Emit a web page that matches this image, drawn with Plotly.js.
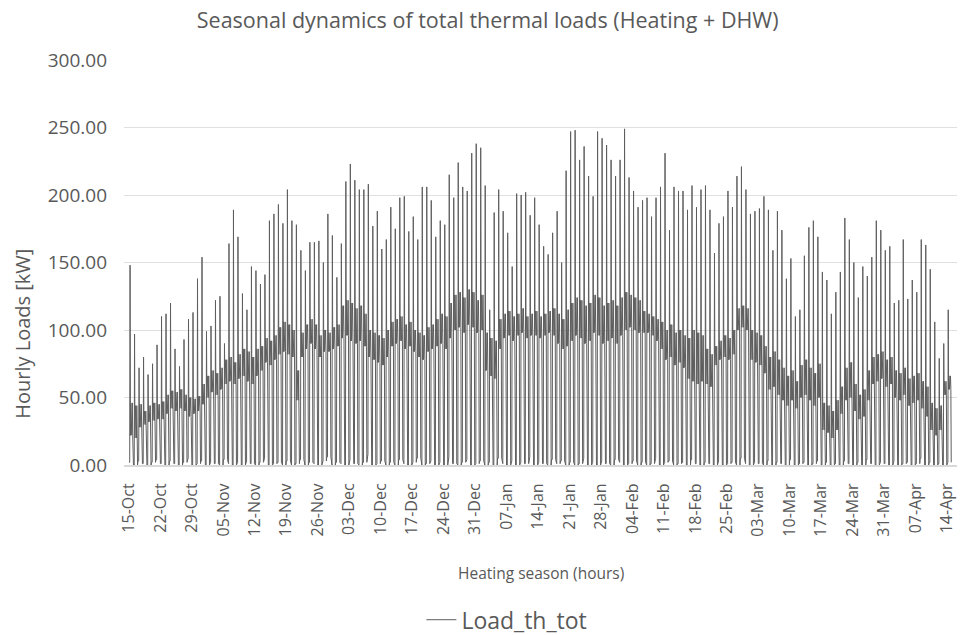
<!DOCTYPE html>
<html>
<head>
<meta charset="utf-8">
<script src="https://cdn.plot.ly/plotly-3.0.1.min.js"></script>
<style>html,body{margin:0;padding:0;background:#fff;}#chart{width:960px;height:635px;}</style>
</head>
<body>
<div id="chart"></div>
<script>
// Season start (day 0 = 15-Oct); one entry per day, 183 days
const seasonStart = '2019-10-15';
const seriesName = 'Load_th_tot';

// Daily peak load [kW] (morning start-up spike)
const dailyPeak = [
  148,97,72,80,67,75,89,110,112,120,
  86,73,93,108,113,138,154,99,103,122,
  125,90,164,189,169,127,115,147,144,134,
  141,181,186,193,179,204,181,178,159,144,
  165,165,166,150,186,
  170,139,164,210,223,211,204,204,208,177,
  188,160,167,191,175,198,199,173,184,167,
  206,206,196,169,181,178,215,198,224,206,
  203,231,238,235,207,115,187,204,188,172,
  147,201,200,202,185,198,
  178,162,156,172,188,150,218,247,248,226,
  236,214,199,247,242,237,226,214,226,249,
  213,203,191,196,198,184,198,206,231,174,
  206,203,203,189,207,191,204,207,189,157,
  179,184,203,191,214,
  221,204,186,188,190,199,189,159,188,174,
  138,153,110,115,155,176,181,169,143,137,
  112,128,143,183,167,150,124,147,140,154,
  181,174,159,162,120,122,167,123,137,128,
  167,163,145,106,79,90,115
];

// Daily upper edge of the daytime load band [kW]
const bandHigh = [
  46,44,45,40,44,46,45,47,52,55,
  54,56,52,50,49,51,60,66,70,68,
  72,78,80,76,82,86,84,80,86,88,
  94,92,96,102,106,104,100,70,98,104,
  108,104,96,100,98,102,104,118,122,120,
  116,118,112,100,98,96,94,100,106,108,
  110,104,106,100,98,96,102,104,108,112,
  110,120,126,128,124,130,128,122,126,98,
  94,92,108,112,114,110,112,116,110,112,
  114,110,112,114,116,112,108,115,120,124,
  122,118,120,126,124,118,120,122,118,124,
  128,126,124,122,114,112,110,108,106,100,
  104,98,100,96,94,100,98,96,86,82,
  88,92,96,94,100,116,118,116,100,98,
  96,88,80,84,78,72,66,70,62,74,
  78,72,68,75,46,44,40,48,58,72,
  76,60,52,56,70,80,82,84,78,80,
  70,68,72,64,66,68,62,58,46,42,
  44,62,66
];

// Daily lower edge of the daytime load band [kW]
const bandLow = [
  22,20,28,30,32,33,34,34,38,42,
  40,42,40,36,38,40,45,50,54,52,
  56,60,62,60,64,66,62,60,66,70,
  76,74,78,82,84,82,80,48,80,86,
  90,86,80,84,84,86,88,94,96,92,
  90,92,88,80,78,76,74,80,88,90,
  92,86,88,84,80,78,84,86,88,90,
  86,94,100,102,98,104,102,98,100,70,
  66,64,86,94,96,92,96,98,94,96,
  96,94,96,98,96,90,86,88,92,96,
  94,90,92,98,96,90,92,94,90,96,
  100,102,100,98,98,98,96,92,86,78,
  80,74,76,72,64,62,60,62,60,58,
  74,78,80,78,82,100,102,100,78,76,
  74,68,56,58,52,48,44,48,42,50,
  52,48,44,50,26,24,20,26,38,48,
  50,40,34,36,48,60,62,64,58,60,
  50,48,52,44,46,48,42,36,26,22,
  26,52,56
];

// Daily night (set-back) load [kW]
const nightLow = [
  2,0,3,1,0,2,4,1,0,3,
  1,0,2,5,0,1,3,0,2,1,
  0,4,1,0,2,0,3,1,0,2,
  5,0,1,2,0,3,0,1,4,0,
  2,1,0,3,6,0,2,1,0,4,
  1,0,2,8,0,1,3,0,2,0,
  4,1,0,2,5,0,1,3,0,2,
  0,6,1,0,2,4,0,1,3,0,
  2,0,5,1,0,3,0,2,1,6,
  0,2,1,0,4,1,3,0,2,0,
  1,5,0,2,0,3,1,0,4,2,
  0,1,3,0,2,0,1,5,0,2,
  3,0,1,2,0,4,1,0,2,1,
  0,3,0,1,2,0,5,1,0,2,
  1,0,3,0,2,1,0,4,0,1,
  2,0,1,3,0,2,0,1,0,3,
  1,0,2,0,4,1,0,2,1,0,
  3,0,1,2,0,1,5,0,2,0,
  1,0,2
];

// Hour of day at which each daily value is placed
const profileHours = [0,4,6,7,8,10,12,14,16,18,20,22];
const profileKind  = ['n','n','p','h','l','h','l','h','l','h','l','n'];

const t0 = Date.parse(seasonStart + 'T00:00:00Z');
function stamp(ms){ return new Date(ms).toISOString().slice(0,19).replace('T',' '); }

const xs = [], ys = [];
for (let d = 0; d < dailyPeak.length; d++) {
  for (let k = 0; k < profileHours.length; k++) {
    xs.push(stamp(t0 + (d*24 + profileHours[k]) * 3600e3));
    const kind = profileKind[k];
    ys.push(kind==='n' ? nightLow[d] : kind==='p' ? dailyPeak[d] : kind==='h' ? bandHigh[d] : bandLow[d]);
  }
}

const tickVals = [];
for (let w = 0; w <= 26; w++) tickVals.push(stamp(t0 + w*7*24*3600e3));

const txt = '#595959';
const fontFam = 'Open Sans, Noto Sans, sans-serif';

const trace = {
  type: 'scatter', mode: 'lines', name: seriesName,
  x: xs, y: ys,
  line: {color: '#5e5e5e', width: 1},
  hoverinfo: 'skip'
};

const layout = {
  width: 960, height: 635,
  margin: {l: 124, r: 3, t: 60, b: 170},
  paper_bgcolor: '#ffffff', plot_bgcolor: '#ffffff',
  font: {family: fontFam, color: txt},
  title: {text: 'Seasonal dynamics of total thermal loads (Heating + DHW)',
          font: {size: 21.5, color: txt, family: fontFam},
          x: 0.508, xref: 'container', xanchor: 'center', y: 0.968, yref: 'container', yanchor: 'middle'},
  xaxis: {
    type: 'date',
    range: [stamp(t0 - 1.1*24*3600e3), stamp(t0 + 184.2*24*3600e3)],
    tickmode: 'array', tickvals: tickVals, tickformat: '%d-%b',
    tickangle: -90, tickfont: {size: 16, color: txt},
    ticklabelstandoff: 10,
    showgrid: false, zeroline: false,
    showline: true, linecolor: '#d9d9d9', linewidth: 2,
    ticks: '', ticklen: 0
  },
  yaxis: {
    range: [0, 300], tickvals: [0,50,100,150,200,250,300], tickformat: '.2f',
    tickfont: {size: 19, color: txt},
    ticklabelstandoff: 16,
    showgrid: true, gridcolor: '#e0e0e0', gridwidth: 1,
    zeroline: false, showline: false, ticks: '', ticklen: 0
  },
  annotations: [
    {text: 'Hourly Loads [kW]', xref: 'paper', yref: 'paper', x: -0.122, y: 0.325,
     xanchor: 'center', yanchor: 'middle', textangle: -90, showarrow: false,
     font: {size: 20, color: txt}},
    {text: 'Heating season (hours)', xref: 'paper', yref: 'paper', x: 0.5, xanchor: 'center',
     y: -0.267, yanchor: 'middle', showarrow: false, font: {size: 15.5, color: txt}}
  ],
  showlegend: true,
  legend: {orientation: 'h', x: 0.528, xref: 'container', xanchor: 'center', y: 0.024, yref: 'container', yanchor: 'middle',
           font: {size: 23, color: txt}}
};

Plotly.newPlot('chart', [trace], layout, {staticPlot: true, displayModeBar: false});
</script>
</body>
</html>
